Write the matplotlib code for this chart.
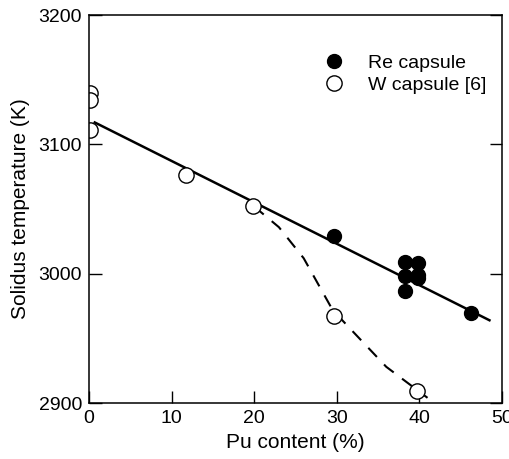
import matplotlib
matplotlib.use('Agg')
import matplotlib.pyplot as plt

plt.rcParams['font.family'] = ['Liberation Sans', 'DejaVu Sans']

# Re capsule (this work)
re_x = [29.7, 38.3, 38.3, 38.3, 39.8, 39.8, 39.8, 46.3]
re_y = [3029, 3009, 2998, 2987, 3008, 2999, 2997, 2970]

# W capsule [6]
w_x = [0.1, 0.1, 0.1, 11.7, 19.9, 29.7, 39.7]
w_y = [3140, 3134, 3111, 3076, 3052, 2967, 2909]

# linear fit through all data (solid line)
fit_x = [0.7, 48.5]
fit_y = [3117, 2964]

# dashed guide through W capsule data at high Pu
dash_x = [20.0, 23.0, 26.0, 29.5, 32.0, 36.0, 41.0]
dash_y = [3052, 3036, 3012, 2972, 2955, 2928, 2904]

fig = plt.figure(figsize=(5.10, 4.59), dpi=100)
ax = fig.add_axes([0.1745, 0.122, 0.8095, 0.845])

ax.plot(fit_x, fit_y, color='black', lw=1.8)
ax.plot(dash_x, dash_y, color='black', lw=1.5, dashes=(6, 5))
ax.plot(re_x, re_y, 'o', ms=10, color='black', mec='black', label='Re capsule')
ax.plot(w_x, w_y, 'o', ms=11, mfc='white', mec='black', mew=1.0,
        label='W capsule [6]')

ax.set_xlim(0, 50)
ax.set_ylim(2900, 3200)
ax.set_xticks([0, 10, 20, 30, 40, 50])
ax.set_yticks([2900, 3000, 3100, 3200])
ax.tick_params(direction='in', length=9, width=1, labelsize=14,
               top=False, right=True, pad=5)
for s in ax.spines.values():
    s.set_linewidth(1.1)

ax.set_xlabel('Pu content (%)', fontsize=15, labelpad=4)
ax.set_ylabel('Solidus temperature (K)', fontsize=15, labelpad=6)

ax.legend(loc='upper right', bbox_to_anchor=(1.005, 0.945), frameon=False,
          fontsize=14, handletextpad=0.75, labelspacing=0.25, numpoints=1)

fig.savefig('out.png', dpi=100)
